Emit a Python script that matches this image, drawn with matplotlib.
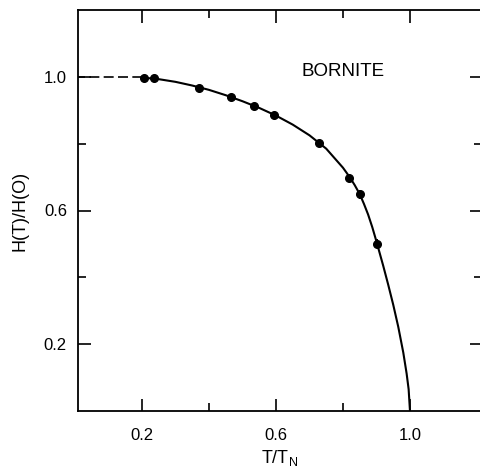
import matplotlib.pyplot as plt

#%% Data
# measured points (T/TN, H(T)/H(0))
t_pts = [0.206, 0.236, 0.370, 0.466, 0.534, 0.594, 0.728, 0.818, 0.851, 0.901]
h_pts = [0.997, 0.997, 0.967, 0.940, 0.913, 0.887, 0.803, 0.696, 0.648, 0.501]
h_err = [0, 0, 0, 0, 0, 0, 0, 0.012, 0.014, 0.014]

# fitted curve
t_fit = [0.20, 0.25, 0.30, 0.35, 0.40, 0.45, 0.50, 0.55, 0.60, 0.65, 0.70,
         0.75, 0.80, 0.82, 0.835, 0.85, 0.8625, 0.875, 0.8875, 0.90, 0.92,
         0.935, 0.95, 0.965, 0.98, 0.99, 0.996, 1.00]
h_fit = [0.998, 0.993, 0.985, 0.974, 0.961, 0.945, 0.927, 0.907, 0.884,
         0.857, 0.825, 0.785, 0.728, 0.700, 0.676, 0.649, 0.620, 0.588,
         0.550, 0.507, 0.435, 0.378, 0.318, 0.252, 0.175, 0.112, 0.065, 0.0]

# dashed extrapolation to T = 0
t_ext = [0.0, 0.20]
h_ext = [1.0, 1.0]

xticks = [0.2, 0.4, 0.6, 0.8, 1.0]
xlabels = ['0.2', '', '0.6', '', '1.0']
yticks = [0.2, 0.4, 0.6, 0.8, 1.0]
ylabels = ['0.2', '', '0.6', '', '1.0']

#%% Plot
plt.rcParams['font.family'] = ['Liberation Sans', 'DejaVu Sans']
plt.rcParams['mathtext.fontset'] = 'custom'
plt.rcParams['mathtext.rm'] = 'Liberation Sans'

fig = plt.figure(figsize=(4.8, 4.75), dpi=100)
ax = fig.add_axes([78 / 480, 64 / 475, 404 / 480, 401 / 475])

ax.plot(t_ext, h_ext, color='black', lw=1.2, dashes=(6, 2.6))
ax.plot(t_fit, h_fit, color='black', lw=1.5, solid_joinstyle='round')
ax.errorbar(t_pts, h_pts, yerr=h_err, fmt='o', color='black', ms=5.5,
            elinewidth=1.5, capsize=0)

ax.text(0.80, 1.015, 'BORNITE', fontsize=13.5, ha='center', va='center')

ax.set_xlim(0.009, 1.215)
ax.set_ylim(0, 1.2)
ax.set_xticks(xticks)
ax.set_xticklabels(xlabels)
ax.set_yticks(yticks)
ax.set_yticklabels(ylabels)
ax.tick_params(direction='in', top=True, right=True, width=1.2,
               labelsize=12, length=9)
ax.tick_params(axis='x', pad=12)
ax.tick_params(axis='y', pad=8)
# shorter ticks at unlabelled positions
for i, tk in enumerate(ax.xaxis.get_major_ticks()):
    if xlabels[i] == '':
        tk.tick1line.set_markersize(5.5)
        tk.tick2line.set_markersize(5.5)
for i, tk in enumerate(ax.yaxis.get_major_ticks()):
    if ylabels[i] == '':
        tk.tick1line.set_markersize(5.5)
        tk.tick2line.set_markersize(5.5)

for s in ax.spines.values():
    s.set_linewidth(1.3)

ax.set_xlabel('T/T$_\\mathrm{N}$', fontsize=13, labelpad=4)
ax.set_ylabel('H(T)/H(O)', fontsize=13, labelpad=11)

plt.savefig('out.png', dpi=100)
